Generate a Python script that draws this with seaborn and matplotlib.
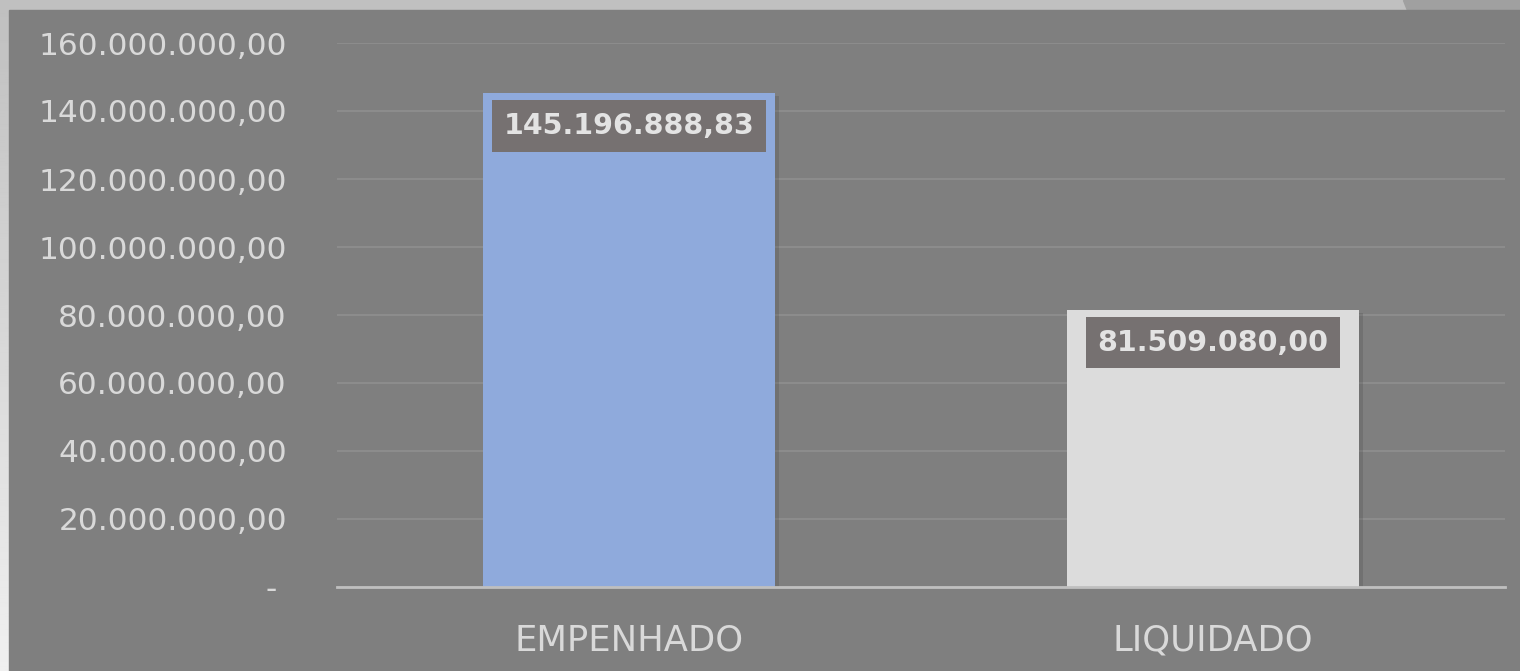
import numpy as np
import pandas as pd
import matplotlib
matplotlib.use("Agg")
import matplotlib.pyplot as plt
import matplotlib.ticker as mticker
import matplotlib.patheffects as pe
from matplotlib.patches import Rectangle, Polygon
import seaborn as sns

# data
categories = ["EMPENHADO", "LIQUIDADO"]
values = [145196888.83, 81509080.00]
bar_colors = ["#8faadc", "#dcdcdc"]
y_ticks = [0, 20e6, 40e6, 60e6, 80e6, 100e6, 120e6, 140e6, 160e6]

df = pd.DataFrame({"cat": categories, "val": values})


def br_fmt(v, decimals=2):
    s = f"{v:,.{decimals}f}"
    return s.replace(",", "X").replace(".", ",").replace("X", ".")


sns.set_theme(style="white")
plt.rcParams["font.family"] = ["DejaVu Sans"]

fig = plt.figure(figsize=(15.2, 6.71), dpi=100)

# background frame: gradient strip on the left, light band on top
bg = fig.add_axes([0, 0, 1, 1], zorder=-10)
grad = np.linspace(0.94, 0.75, 256).reshape(-1, 1)
bg.imshow(grad, aspect="auto", cmap="gray", vmin=0, vmax=1,
          extent=[0, 1, 0, 1], origin="lower")
bg.add_patch(Rectangle((0, 0.985), 1, 0.015, color="#c0c0c0"))
bg.add_patch(Polygon([(1403 / 1520, 1), (1, 1), (1, 0.985), (1407 / 1520, 0.985)],
                     closed=True, color="#a0a0a0"))
bg.add_patch(Rectangle((9 / 1520, 0), 1, 661 / 671, color="#7f7f7f"))
bg.set_xlim(0, 1)
bg.set_ylim(0, 1)
bg.axis("off")

ax = fig.add_axes([337 / 1520, 84 / 671, 1168 / 1520, 544 / 671])
ax.set_facecolor("none")

sns.barplot(data=df, x="cat", y="val", hue="cat", palette=bar_colors,
            width=0.5, saturation=1, legend=False, ax=ax, zorder=3,
            linewidth=0)
for bar in ax.patches:
    bar.set_path_effects([pe.SimplePatchShadow(offset=(3, -2), shadow_rgbFace="#3a3a3a",
                                               alpha=0.2), pe.Normal()])

ax.set_ylim(0, 160e6)
ax.set_yticks(y_ticks)
ax.yaxis.set_major_formatter(mticker.FuncFormatter(
    lambda v, p: "- " if v == 0 else br_fmt(v)))
ax.grid(axis="y", color="#8c8c8c", linewidth=1.5, zorder=0)
ax.set_axisbelow(True)

for s in ["top", "right", "left"]:
    ax.spines[s].set_visible(False)
ax.spines["bottom"].set_color("#bfbfbf")
ax.spines["bottom"].set_linewidth(2)
ax.spines["bottom"].set_zorder(4)

ax.tick_params(axis="y", length=0, pad=36, labelsize=22.5, labelcolor="#d9d9d9")
ax.tick_params(axis="x", length=0, pad=26, labelsize=25.5, labelcolor="#d9d9d9")
ax.set_xlabel("")
ax.set_ylabel("")

# value labels inside the top of each bar
for i, v in enumerate(values):
    ax.annotate(br_fmt(v), xy=(i, v), xytext=(0, -23.5), textcoords="offset points",
                ha="center", va="center", fontsize=20.5, fontweight="bold",
                color="#e3e3e3", zorder=5,
                bbox=dict(boxstyle="square,pad=0.42", fc="#767171", ec="none"))

fig.savefig("out.png", dpi=100)
